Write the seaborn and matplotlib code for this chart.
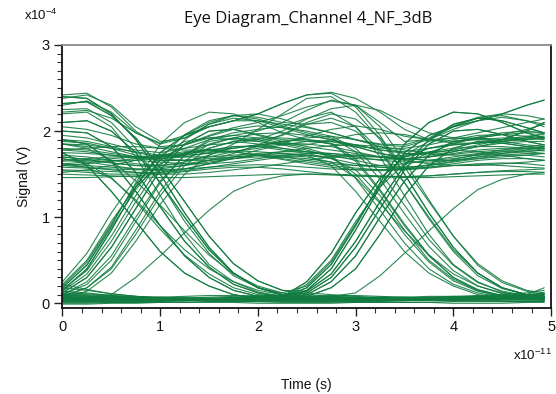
import numpy as np
import pandas as pd
import matplotlib
matplotlib.use("Agg")
import matplotlib.pyplot as plt
from matplotlib.ticker import MultipleLocator
import seaborn as sns

# Sample instants of every trace (units of 1e-11 s)
time_points = [0.0, 0.25, 0.5, 0.75, 1.0, 1.25, 1.5, 1.75, 2.0, 2.25,
               2.5, 2.75, 3.0, 3.25, 3.5, 3.75, 4.0, 4.25, 4.5, 4.75, 4.93]

# Signal samples (units of 1e-4 V), grouped by bit pattern over the window
low_traces = [
    [0.02, 0.02, 0.01, 0.01, 0.01, 0.01, 0.02, 0.02, 0.02, 0.02, 0.02, 0.02, 0.01, 0.01, 0.01, 0.01, 0.02, 0.02, 0.02, 0.02, 0.02],
    [0.05, 0.04, 0.04, 0.03, 0.03, 0.03, 0.03, 0.04, 0.04, 0.05, 0.05, 0.05, 0.04, 0.04, 0.03, 0.03, 0.03, 0.04, 0.05, 0.05, 0.05],
    [0.09, 0.08, 0.07, 0.06, 0.05, 0.05, 0.05, 0.05, 0.06, 0.07, 0.08, 0.08, 0.07, 0.06, 0.05, 0.05, 0.05, 0.06, 0.07, 0.08, 0.09],
    [0.14, 0.12, 0.09, 0.07, 0.06, 0.05, 0.05, 0.05, 0.05, 0.06, 0.06, 0.06, 0.05, 0.05, 0.04, 0.04, 0.05, 0.06, 0.07, 0.07, 0.08],
    [0.00, 0.00, 0.01, 0.01, 0.02, 0.03, 0.04, 0.05, 0.06, 0.07, 0.07, 0.06, 0.05, 0.04, 0.04, 0.04, 0.05, 0.06, 0.07, 0.08, 0.08],
    [0.07, 0.06, 0.05, 0.04, 0.04, 0.04, 0.05, 0.06, 0.08, 0.10, 0.12, 0.10, 0.08, 0.06, 0.05, 0.04, 0.04, 0.04, 0.03, 0.03, 0.03],
    [0.03, 0.03, 0.04, 0.05, 0.06, 0.06, 0.06, 0.05, 0.04, 0.03, 0.02, 0.02, 0.03, 0.04, 0.05, 0.06, 0.07, 0.07, 0.06, 0.05, 0.04],
    [0.11, 0.10, 0.08, 0.07, 0.06, 0.06, 0.06, 0.07, 0.08, 0.08, 0.07, 0.06, 0.05, 0.05, 0.05, 0.06, 0.07, 0.08, 0.09, 0.10, 0.11],
    [0.18, 0.15, 0.11, 0.08, 0.06, 0.05, 0.04, 0.04, 0.04, 0.04, 0.05, 0.05, 0.06, 0.06, 0.06, 0.05, 0.05, 0.05, 0.06, 0.08, 0.10],
    [0.04, 0.05, 0.06, 0.07, 0.07, 0.06, 0.05, 0.04, 0.03, 0.03, 0.04, 0.05, 0.06, 0.07, 0.07, 0.06, 0.05, 0.04, 0.04, 0.05, 0.06],
    [0.01, 0.01, 0.02, 0.02, 0.03, 0.03, 0.03, 0.02, 0.02, 0.01, 0.01, 0.01, 0.02, 0.03, 0.04, 0.04, 0.03, 0.03, 0.02, 0.02, 0.02],
    [0.06, 0.07, 0.07, 0.06, 0.05, 0.04, 0.03, 0.03, 0.03, 0.04, 0.05, 0.06, 0.07, 0.07, 0.06, 0.05, 0.04, 0.04, 0.05, 0.06, 0.07],
    [0.12, 0.11, 0.09, 0.08, 0.07, 0.06, 0.05, 0.05, 0.06, 0.07, 0.08, 0.09, 0.09, 0.08, 0.07, 0.06, 0.05, 0.05, 0.06, 0.08, 0.12],
    [-0.01, -0.01, 0.00, 0.00, 0.01, 0.01, 0.01, 0.01, 0.00, 0.00, 0.00, 0.00, 0.01, 0.01, 0.01, 0.01, 0.00, 0.00, 0.00, 0.01, 0.01],
    [0.08, 0.07, 0.06, 0.06, 0.07, 0.08, 0.09, 0.09, 0.08, 0.07, 0.06, 0.05, 0.05, 0.05, 0.06, 0.07, 0.08, 0.09, 0.10, 0.12, 0.15],
    [0.22, 0.16, 0.11, 0.08, 0.06, 0.05, 0.05, 0.04, 0.04, 0.04, 0.04, 0.04, 0.05, 0.05, 0.06, 0.06, 0.06, 0.06, 0.07, 0.10, 0.18],
    [0.10, 0.09, 0.08, 0.07, 0.06, 0.06, 0.07, 0.08, 0.09, 0.09, 0.08, 0.07, 0.06, 0.05, 0.05, 0.05, 0.06, 0.07, 0.08, 0.09, 0.10],
    [0.04, 0.03, 0.02, 0.02, 0.03, 0.04, 0.05, 0.06, 0.06, 0.05, 0.04, 0.03, 0.02, 0.02, 0.03, 0.04, 0.05, 0.06, 0.06, 0.05, 0.04],
]

high_traces = [
    [1.50, 1.49, 1.48, 1.47, 1.46, 1.46, 1.47, 1.48, 1.49, 1.50, 1.50, 1.49, 1.48, 1.47, 1.46, 1.46, 1.47, 1.48, 1.49, 1.50, 1.50],
    [1.58, 1.57, 1.56, 1.55, 1.55, 1.56, 1.58, 1.60, 1.61, 1.60, 1.58, 1.56, 1.55, 1.55, 1.56, 1.58, 1.60, 1.61, 1.60, 1.58, 1.57],
    [1.65, 1.66, 1.68, 1.70, 1.72, 1.74, 1.76, 1.77, 1.76, 1.74, 1.72, 1.70, 1.68, 1.67, 1.68, 1.70, 1.73, 1.76, 1.78, 1.78, 1.77],
    [1.80, 1.78, 1.74, 1.70, 1.68, 1.70, 1.75, 1.80, 1.84, 1.86, 1.85, 1.82, 1.76, 1.70, 1.67, 1.70, 1.76, 1.82, 1.86, 1.88, 1.88],
    [1.90, 1.88, 1.82, 1.75, 1.70, 1.74, 1.84, 1.92, 1.97, 1.98, 1.95, 1.90, 1.82, 1.74, 1.70, 1.75, 1.85, 1.93, 1.98, 2.00, 1.98],
    [2.22, 2.24, 2.15, 1.98, 1.85, 1.92, 2.08, 2.18, 2.20, 2.14, 2.05, 1.98, 1.90, 1.84, 1.82, 1.90, 2.05, 2.15, 2.18, 2.12, 2.05],
    [1.70, 1.67, 1.63, 1.60, 1.58, 1.60, 1.64, 1.68, 1.72, 1.76, 1.80, 1.83, 1.84, 1.82, 1.78, 1.74, 1.72, 1.72, 1.74, 1.76, 1.78],
    [1.52, 1.55, 1.60, 1.66, 1.72, 1.76, 1.78, 1.76, 1.72, 1.67, 1.62, 1.58, 1.55, 1.54, 1.56, 1.61, 1.67, 1.73, 1.78, 1.82, 1.84],
    [2.05, 2.02, 1.95, 1.85, 1.80, 1.84, 1.95, 2.04, 2.10, 2.18, 2.28, 2.35, 2.30, 2.10, 1.88, 1.90, 2.02, 2.12, 2.16, 2.12, 2.08],
    [1.62, 1.64, 1.66, 1.66, 1.64, 1.62, 1.62, 1.64, 1.68, 1.72, 1.74, 1.74, 1.72, 1.70, 1.68, 1.66, 1.66, 1.68, 1.70, 1.72, 1.74],
    [1.46, 1.46, 1.47, 1.48, 1.50, 1.53, 1.56, 1.58, 1.58, 1.56, 1.53, 1.50, 1.48, 1.47, 1.47, 1.48, 1.50, 1.52, 1.53, 1.53, 1.52],
    [1.75, 1.74, 1.72, 1.70, 1.70, 1.73, 1.78, 1.82, 1.83, 1.80, 1.76, 1.72, 1.70, 1.70, 1.72, 1.76, 1.80, 1.82, 1.82, 1.80, 1.78],
    [2.38, 2.42, 2.30, 2.05, 1.88, 1.92, 2.05, 2.12, 2.12, 2.08, 2.04, 1.98, 1.90, 1.85, 1.84, 1.92, 2.06, 2.16, 2.20, 2.18, 2.14],
    [1.60, 1.62, 1.65, 1.68, 1.70, 1.72, 1.74, 1.76, 1.80, 1.86, 1.94, 2.02, 2.06, 2.02, 1.94, 1.90, 1.92, 1.98, 2.04, 2.10, 2.14],
    [1.85, 1.84, 1.80, 1.76, 1.72, 1.70, 1.70, 1.72, 1.74, 1.76, 1.76, 1.74, 1.70, 1.66, 1.64, 1.64, 1.66, 1.70, 1.74, 1.78, 1.82],
    [1.68, 1.64, 1.60, 1.56, 1.54, 1.56, 1.62, 1.70, 1.78, 1.84, 1.88, 1.88, 1.82, 1.74, 1.68, 1.66, 1.68, 1.72, 1.76, 1.80, 1.82],
    [1.54, 1.52, 1.50, 1.50, 1.52, 1.56, 1.62, 1.68, 1.72, 1.74, 1.72, 1.68, 1.62, 1.58, 1.56, 1.58, 1.62, 1.66, 1.68, 1.68, 1.66],
    [1.72, 1.70, 1.66, 1.62, 1.60, 1.62, 1.66, 1.70, 1.72, 1.70, 1.66, 1.62, 1.60, 1.60, 1.62, 1.66, 1.70, 1.74, 1.76, 1.76, 1.74],
    [1.88, 1.86, 1.80, 1.72, 1.66, 1.66, 1.70, 1.76, 1.82, 1.88, 1.92, 1.94, 1.90, 1.82, 1.74, 1.72, 1.76, 1.82, 1.88, 1.92, 1.94],
    [1.60, 1.58, 1.55, 1.52, 1.50, 1.50, 1.52, 1.55, 1.58, 1.62, 1.66, 1.70, 1.72, 1.70, 1.66, 1.62, 1.60, 1.60, 1.62, 1.64, 1.66],
    [1.78, 1.80, 1.82, 1.82, 1.80, 1.78, 1.78, 1.80, 1.84, 1.88, 1.90, 1.88, 1.84, 1.78, 1.74, 1.74, 1.78, 1.84, 1.90, 1.94, 1.96],
    [1.66, 1.68, 1.70, 1.70, 1.68, 1.66, 1.66, 1.68, 1.70, 1.70, 1.68, 1.64, 1.60, 1.58, 1.58, 1.60, 1.64, 1.68, 1.72, 1.74, 1.74],
]

rise_high_traces = [
    [0.12, 0.30, 0.65, 1.10, 1.55, 1.85, 2.00, 2.02, 1.95, 1.88, 1.82, 1.78, 1.74, 1.70, 1.68, 1.70, 1.74, 1.78, 1.80, 1.80, 1.80],
    [0.18, 0.45, 0.90, 1.40, 1.85, 2.10, 2.22, 2.20, 2.10, 1.98, 1.90, 1.85, 1.82, 1.80, 1.80, 1.84, 1.90, 1.95, 1.96, 1.94, 1.92],
    [0.08, 0.18, 0.40, 0.80, 1.25, 1.60, 1.80, 1.88, 1.85, 1.80, 1.76, 1.72, 1.66, 1.60, 1.58, 1.60, 1.65, 1.70, 1.72, 1.72, 1.70],
    [0.15, 0.40, 0.85, 1.35, 1.75, 1.95, 2.05, 2.12, 2.20, 2.32, 2.42, 2.45, 2.38, 2.22, 2.02, 1.90, 1.88, 1.90, 1.92, 1.92, 1.90],
    [0.05, 0.06, 0.10, 0.30, 0.55, 0.82, 1.08, 1.30, 1.42, 1.48, 1.50, 1.50, 1.49, 1.48, 1.47, 1.48, 1.50, 1.52, 1.54, 1.55, 1.56],
    [0.22, 0.50, 0.95, 1.35, 1.62, 1.75, 1.78, 1.76, 1.72, 1.68, 1.64, 1.60, 1.57, 1.55, 1.55, 1.57, 1.60, 1.62, 1.63, 1.62, 1.60],
    [0.14, 0.34, 0.72, 1.18, 1.60, 1.90, 2.08, 2.15, 2.12, 2.04, 1.96, 1.90, 1.84, 1.78, 1.76, 1.80, 1.86, 1.92, 1.96, 1.98, 1.98],
    [0.10, 0.25, 0.55, 1.00, 1.42, 1.72, 1.88, 1.92, 1.88, 1.84, 1.84, 1.90, 1.96, 1.98, 1.96, 1.90, 1.86, 1.86, 1.88, 1.90, 1.92],
    [0.25, 0.58, 1.05, 1.45, 1.70, 1.80, 1.84, 1.86, 1.90, 2.00, 2.14, 2.26, 2.30, 2.24, 2.10, 1.98, 1.92, 1.92, 1.96, 2.02, 2.08],
]

rise_fall_traces = [
    [0.12, 0.30, 0.65, 1.10, 1.55, 1.85, 2.00, 2.02, 1.96, 1.90, 1.88, 1.86, 1.68, 1.32, 0.92, 0.56, 0.30, 0.16, 0.09, 0.06, 0.05],
    [0.15, 0.40, 0.85, 1.35, 1.75, 1.95, 2.05, 2.12, 2.20, 2.32, 2.42, 2.44, 2.28, 1.95, 1.50, 1.05, 0.65, 0.35, 0.18, 0.10, 0.08],
    [0.10, 0.22, 0.50, 0.95, 1.40, 1.72, 1.90, 1.95, 1.92, 1.86, 1.80, 1.72, 1.45, 1.08, 0.70, 0.40, 0.22, 0.12, 0.07, 0.05, 0.05],
    [0.20, 0.48, 0.92, 1.38, 1.72, 1.88, 1.92, 1.90, 1.88, 1.95, 2.08, 2.15, 2.05, 1.78, 1.40, 0.98, 0.60, 0.32, 0.17, 0.10, 0.07],
    [0.06, 0.14, 0.35, 0.72, 1.15, 1.50, 1.72, 1.82, 1.82, 1.78, 1.74, 1.68, 1.55, 1.25, 0.85, 0.50, 0.28, 0.15, 0.09, 0.06, 0.05],
    [0.16, 0.38, 0.78, 1.25, 1.68, 1.96, 2.12, 2.18, 2.14, 2.06, 1.98, 1.92, 1.76, 1.44, 1.04, 0.66, 0.38, 0.20, 0.11, 0.07, 0.06],
    [0.08, 0.18, 0.42, 0.85, 1.30, 1.65, 1.85, 1.92, 1.90, 1.84, 1.78, 1.70, 1.50, 1.18, 0.80, 0.48, 0.26, 0.14, 0.08, 0.06, 0.05],
    [0.18, 0.44, 0.88, 1.32, 1.66, 1.84, 1.92, 1.95, 2.00, 2.10, 2.24, 2.36, 2.30, 2.05, 1.65, 1.20, 0.78, 0.44, 0.24, 0.14, 0.10],
]

fall_low_traces = [
    [2.40, 2.38, 2.20, 1.90, 1.50, 1.05, 0.65, 0.35, 0.18, 0.10, 0.07, 0.05, 0.04, 0.04, 0.04, 0.05, 0.05, 0.06, 0.06, 0.07, 0.07],
    [1.90, 1.85, 1.65, 1.30, 0.90, 0.55, 0.30, 0.15, 0.08, 0.05, 0.04, 0.04, 0.03, 0.03, 0.03, 0.04, 0.04, 0.05, 0.05, 0.05, 0.05],
    [2.10, 2.12, 2.00, 1.75, 1.40, 1.00, 0.62, 0.35, 0.18, 0.10, 0.07, 0.06, 0.05, 0.05, 0.05, 0.06, 0.07, 0.08, 0.08, 0.08, 0.08],
    [1.75, 1.60, 1.30, 0.95, 0.60, 0.35, 0.20, 0.10, 0.06, 0.04, 0.03, 0.03, 0.03, 0.04, 0.05, 0.06, 0.06, 0.06, 0.05, 0.05, 0.04],
    [2.20, 2.22, 2.05, 1.70, 1.25, 0.80, 0.45, 0.25, 0.13, 0.08, 0.06, 0.05, 0.05, 0.06, 0.07, 0.08, 0.08, 0.07, 0.06, 0.06, 0.06],
    [1.62, 1.58, 1.45, 1.20, 0.90, 0.62, 0.40, 0.25, 0.15, 0.10, 0.08, 0.07, 0.06, 0.06, 0.05, 0.05, 0.05, 0.05, 0.06, 0.06, 0.07],
    [2.32, 2.34, 2.18, 1.92, 1.58, 1.18, 0.78, 0.46, 0.26, 0.15, 0.10, 0.08, 0.07, 0.06, 0.06, 0.06, 0.07, 0.08, 0.09, 0.10, 0.12],
    [2.00, 1.98, 1.82, 1.52, 1.12, 0.72, 0.42, 0.22, 0.12, 0.07, 0.05, 0.04, 0.04, 0.04, 0.05, 0.05, 0.05, 0.05, 0.05, 0.06, 0.06],
    [1.85, 1.80, 1.66, 1.42, 1.14, 0.84, 0.56, 0.34, 0.20, 0.12, 0.08, 0.06, 0.05, 0.05, 0.04, 0.04, 0.04, 0.05, 0.05, 0.06, 0.06],
]

fall_rise_traces = [
    [2.40, 2.38, 2.20, 1.90, 1.50, 1.05, 0.65, 0.35, 0.18, 0.10, 0.12, 0.30, 0.65, 1.10, 1.55, 1.85, 2.00, 2.02, 1.96, 1.88, 1.84],
    [1.90, 1.85, 1.65, 1.30, 0.90, 0.55, 0.30, 0.15, 0.08, 0.06, 0.18, 0.45, 0.90, 1.40, 1.85, 2.10, 2.22, 2.20, 2.10, 1.98, 1.92],
    [2.10, 2.12, 2.00, 1.75, 1.40, 1.00, 0.62, 0.35, 0.18, 0.10, 0.08, 0.18, 0.40, 0.80, 1.25, 1.60, 1.80, 1.88, 1.86, 1.82, 1.80],
    [1.75, 1.60, 1.30, 0.95, 0.60, 0.35, 0.20, 0.10, 0.06, 0.05, 0.15, 0.40, 0.85, 1.35, 1.75, 1.95, 2.05, 2.12, 2.20, 2.30, 2.36],
    [2.25, 2.26, 2.10, 1.80, 1.40, 0.95, 0.58, 0.32, 0.18, 0.12, 0.20, 0.48, 0.92, 1.38, 1.72, 1.88, 1.92, 1.90, 1.88, 1.92, 1.98],
    [2.32, 2.34, 2.18, 1.92, 1.58, 1.18, 0.78, 0.46, 0.26, 0.15, 0.14, 0.34, 0.72, 1.18, 1.60, 1.90, 2.08, 2.15, 2.12, 2.04, 1.98],
    [2.00, 1.98, 1.82, 1.52, 1.12, 0.72, 0.42, 0.22, 0.12, 0.08, 0.10, 0.25, 0.55, 1.00, 1.42, 1.72, 1.88, 1.92, 1.88, 1.84, 1.82],
    [1.68, 1.62, 1.46, 1.18, 0.86, 0.56, 0.34, 0.18, 0.10, 0.08, 0.25, 0.58, 1.05, 1.45, 1.70, 1.80, 1.84, 1.86, 1.90, 2.00, 2.10],
]

high_fall_traces = [
    [1.70, 1.67, 1.63, 1.60, 1.60, 1.64, 1.72, 1.85, 2.02, 2.20, 2.38, 2.40, 2.22, 1.90, 1.50, 1.05, 0.65, 0.35, 0.18, 0.10, 0.08],
    [1.85, 1.82, 1.76, 1.70, 1.68, 1.72, 1.80, 1.88, 1.92, 1.92, 1.90, 1.85, 1.65, 1.30, 0.90, 0.55, 0.30, 0.15, 0.08, 0.05, 0.04],
    [2.30, 2.35, 2.22, 1.98, 1.86, 1.95, 2.10, 2.18, 2.16, 2.10, 2.08, 2.10, 2.00, 1.75, 1.40, 1.00, 0.62, 0.35, 0.18, 0.10, 0.08],
    [1.55, 1.54, 1.53, 1.52, 1.52, 1.54, 1.58, 1.62, 1.66, 1.70, 1.72, 1.60, 1.30, 0.95, 0.60, 0.35, 0.20, 0.10, 0.06, 0.04, 0.04],
    [1.95, 1.92, 1.85, 1.78, 1.75, 1.80, 1.90, 1.98, 2.02, 2.05, 2.15, 2.22, 2.05, 1.70, 1.25, 0.80, 0.45, 0.25, 0.13, 0.08, 0.06],
    [2.42, 2.44, 2.28, 2.00, 1.82, 1.84, 1.94, 2.02, 2.06, 2.04, 2.00, 1.94, 1.80, 1.52, 1.14, 0.74, 0.44, 0.24, 0.14, 0.09, 0.07],
    [1.62, 1.60, 1.58, 1.56, 1.56, 1.60, 1.66, 1.74, 1.84, 1.96, 2.10, 2.20, 2.14, 1.92, 1.58, 1.18, 0.78, 0.46, 0.26, 0.15, 0.12],
    [1.78, 1.76, 1.72, 1.68, 1.66, 1.66, 1.68, 1.70, 1.72, 1.72, 1.70, 1.64, 1.46, 1.16, 0.84, 0.56, 0.34, 0.20, 0.12, 0.08, 0.07],
]

low_rise_traces = [
    [0.04, 0.04, 0.03, 0.03, 0.03, 0.03, 0.04, 0.04, 0.05, 0.06, 0.12, 0.30, 0.65, 1.10, 1.55, 1.85, 2.00, 2.02, 1.96, 1.88, 1.84],
    [0.06, 0.05, 0.05, 0.04, 0.04, 0.04, 0.05, 0.06, 0.07, 0.08, 0.18, 0.45, 0.90, 1.40, 1.85, 2.10, 2.22, 2.20, 2.10, 1.98, 1.92],
    [0.02, 0.02, 0.02, 0.03, 0.03, 0.04, 0.04, 0.05, 0.05, 0.06, 0.08, 0.18, 0.40, 0.80, 1.25, 1.60, 1.80, 1.88, 1.86, 1.82, 1.80],
    [0.08, 0.07, 0.06, 0.05, 0.05, 0.05, 0.05, 0.05, 0.05, 0.05, 0.06, 0.08, 0.12, 0.32, 0.58, 0.84, 1.10, 1.32, 1.44, 1.50, 1.52],
    [0.10, 0.08, 0.07, 0.06, 0.05, 0.05, 0.05, 0.06, 0.07, 0.08, 0.15, 0.40, 0.85, 1.35, 1.75, 1.95, 2.05, 2.12, 2.20, 2.30, 2.36],
    [0.03, 0.03, 0.04, 0.04, 0.05, 0.05, 0.05, 0.05, 0.05, 0.06, 0.22, 0.50, 0.95, 1.35, 1.62, 1.75, 1.78, 1.76, 1.72, 1.68, 1.66],
    [0.05, 0.05, 0.04, 0.04, 0.04, 0.05, 0.05, 0.05, 0.06, 0.07, 0.14, 0.34, 0.72, 1.18, 1.60, 1.90, 2.08, 2.15, 2.12, 2.04, 1.98],
    [0.03, 0.03, 0.03, 0.03, 0.03, 0.04, 0.04, 0.04, 0.05, 0.05, 0.10, 0.25, 0.55, 1.00, 1.42, 1.72, 1.88, 1.92, 1.90, 1.90, 1.92],
    [0.07, 0.06, 0.06, 0.05, 0.05, 0.05, 0.05, 0.06, 0.06, 0.07, 0.25, 0.58, 1.05, 1.45, 1.70, 1.80, 1.84, 1.86, 1.90, 2.00, 2.10],
]

x_ticks = [0, 1, 2, 3, 4, 5]
y_ticks = [0, 1, 2, 3]

# Long-form table: one row per sample, one unit per trace
all_traces = (low_traces + high_traces + rise_high_traces + rise_fall_traces
              + fall_low_traces + fall_rise_traces + high_fall_traces + low_rise_traces)
rows = []
for k, tr in enumerate(all_traces):
    for t, v in zip(time_points, tr):
        rows.append((k, t, v))
df = pd.DataFrame(rows, columns=["trace", "time", "signal"])

sns.set_theme(style="white")
plt.rcParams["font.family"] = ["Liberation Sans", "DejaVu Sans"]
plt.rcParams["mathtext.fontset"] = "custom"
plt.rcParams["mathtext.rm"] = "Liberation Sans"

fig = plt.figure(figsize=(5.56, 3.94), dpi=100)
ax = fig.add_axes([0.1124, 0.2183, 0.8787, 0.6675])

line_green = "#127c40"
sns.lineplot(data=df, x="time", y="signal", units="trace", estimator=None,
             sort=False, color=line_green, linewidth=0.8, alpha=0.9,
             legend=False, ax=ax)
for ln in ax.get_lines():
    ln.set_solid_joinstyle("round")

ax.set_xlim(0, 5)
ax.set_ylim(-0.055, 3)
ax.set_xticks(x_ticks)
ax.set_yticks(y_ticks)
ax.xaxis.set_minor_locator(MultipleLocator(0.2))
ax.yaxis.set_minor_locator(MultipleLocator(0.1))
ax.tick_params(axis="both", which="major", direction="out", length=6,
               width=1, color="#222222", labelsize=10.5, pad=3,
               labelcolor="#111111")
ax.tick_params(axis="both", which="minor", direction="out", length=3.5,
               width=0.8, color="#333333")
ax.tick_params(axis="x", which="both", bottom=True, top=False)
ax.tick_params(axis="y", which="both", left=True, right=False)

for side in ["left", "bottom", "right"]:
    ax.spines[side].set_color("#111111")
    ax.spines[side].set_linewidth(1.3)
ax.spines["top"].set_color("#8a8a8a")
ax.spines["top"].set_linewidth(1.3)

ax.set_xlabel("Time (s)", fontsize=10, labelpad=31, color="#111111")
ax.set_ylabel("Signal (V)", fontsize=10, labelpad=8, color="#111111")

fig.text(0.555, 0.953, "Eye Diagram_Channel 4_NF_3dB", ha="center",
         va="center", fontsize=12, family=["Open Sans", "DejaVu Sans"],
         color="#111111")
fig.text(0.043, 0.962, r"x10$^{\mathregular{-4}}$", ha="left", va="center",
         fontsize=9.5, color="#111111")
fig.text(0.992, 0.098, r"x10$^{\mathregular{-11}}$", ha="right",
         va="center", fontsize=9.5, color="#111111")

fig.savefig("out.png", dpi=100)
